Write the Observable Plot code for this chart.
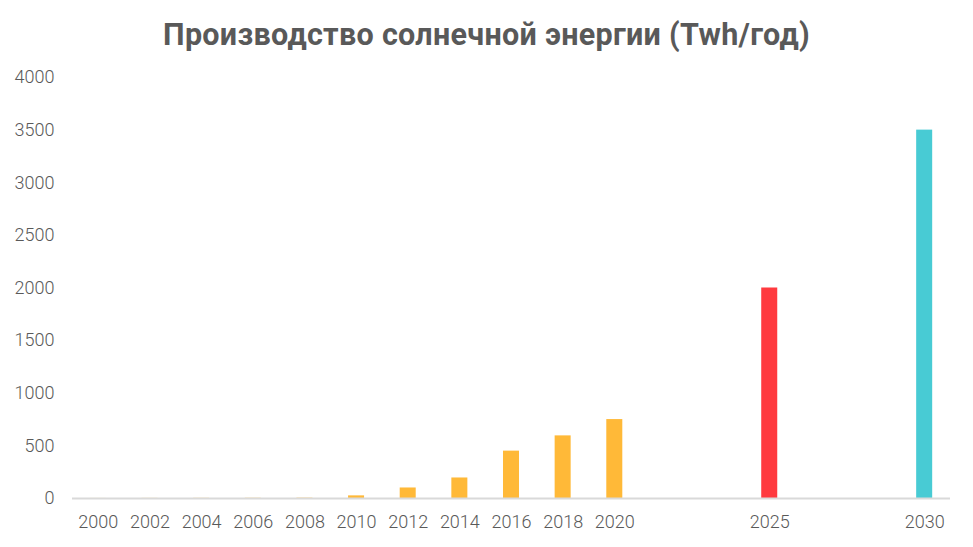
<!DOCTYPE html>
<html>
<head>
<meta charset="utf-8">
<script src="https://cdn.jsdelivr.net/npm/d3@7"></script>
<script src="https://cdn.jsdelivr.net/npm/@observablehq/plot@0.6"></script>
<style>
  html, body { margin: 0; padding: 0; background: #fff; }
  #wrap { width: 973px; height: 547px; position: relative; overflow: hidden; }
  #title { position: absolute; left: 0; top: 17px; width: 973px; text-align: center;
           font-family: Roboto, "Noto Sans", sans-serif; font-weight: 700; font-size: 30.5px;
           color: #595959; line-height: 36px; letter-spacing: 0.3px; }
  #chart { position: absolute; left: 0; top: 58px; }
</style>
</head>
<body>
<div id="wrap">
  <div id="title">Производство солнечной энергии (Twh/год)</div>
  <div id="chart"></div>
</div>
<script>
// Categories (years) and values, TWh per year
const years  = ["2000","2002","2004","2006","2008","2010","2012","2014","2016","2018","2020","2025","2030"];
const values = [0.5, 1, 1.5, 2, 3, 25, 100, 195, 450, 595, 750, 2000, 3500];
const kinds  = ["факт","факт","факт","факт","факт","факт","факт","факт","факт","факт","факт","прогноз 2025","прогноз 2030"];
// Category axis with empty slots between 2020, 2025 and 2030
const slots  = ["2000","2002","2004","2006","2008","2010","2012","2014","2016","2018","2020","_a","_b","2025","_c","_d","2030"];
const yTicks = [0, 500, 1000, 1500, 2000, 2500, 3000, 3500, 4000];
const kindDomain = ["факт","прогноз 2025","прогноз 2030"];
const kindColors = ["#FFB938","#FF3A3F","#48CBD4"];

const data = years.map((y, i) => ({year: y, value: values[i], kind: kinds[i]}));

const chart = Plot.plot({
  width: 973,
  height: 489,
  marginTop: 19,
  marginBottom: 49,
  marginLeft: 72,
  marginRight: 23,
  style: {fontFamily: "Roboto, 'Liberation Sans', sans-serif", fontSize: "18px", fontWeight: 300, color: "#595959", background: "#fff"},
  x: {type: "band", domain: slots, paddingInner: 0.69, paddingOuter: 0.345, align: 0.5, round: false},
  y: {domain: [0, 4000]},
  color: {domain: kindDomain, range: kindColors},
  marks: [
    Plot.barY(data, {x: "year", y: "value", fill: "kind"}),
    Plot.ruleY([0], {stroke: "#D9D9D9", strokeWidth: 2}),
    Plot.axisY({ticks: yTicks, tickFormat: d => String(d), tickSize: 0, tickPadding: 18, label: null, fill: "#595959", fontSize: 18}),
    Plot.axisX({ticks: years, tickSize: 0, tickPadding: 17, label: null, fill: "#595959", fontSize: 18})
  ]
});
document.getElementById("chart").appendChild(chart);
</script>
</body>
</html>
